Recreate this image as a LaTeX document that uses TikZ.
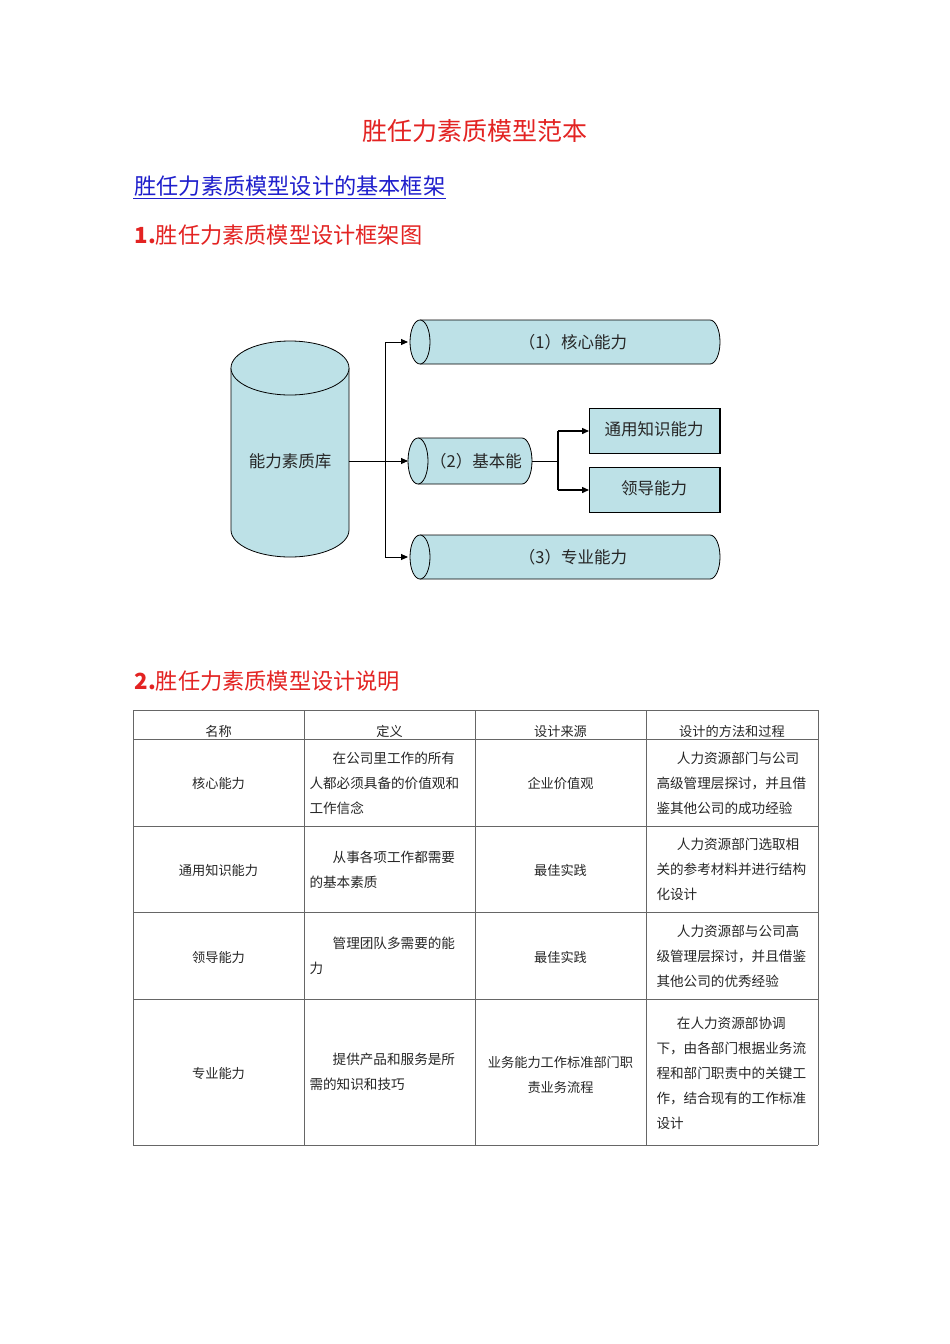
\documentclass[tikz,border=0pt]{standalone}
\usepackage{fontspec}
\setmainfont{Liberation Sans}
\newfontfamily\cjk{Noto Sans CJK SC}
\usetikzlibrary{arrows.meta}
\definecolor{tube}{HTML}{BDE1E7}
\definecolor{ttl}{HTML}{E32322}
\definecolor{lnk}{HTML}{1F1FCC}
\begin{document}
\begin{tikzpicture}[x=1pt,y=-1pt,
  arr/.style={draw,line width=0.9pt,-{Triangle[length=7pt,width=6pt]}},
  tline/.style={draw=black!60,line width=0.6pt},
  cell/.style={font=\cjk\fontsize{13.6}{25}\selectfont,align=left,text=black!85},
  ccell/.style={font=\cjk\fontsize{13.2}{25}\selectfont,align=center,text=black!85},
  lbl/.style={font=\cjk\fontsize{16.5}{18}\selectfont,text=black!85}]
\fill[white] (0,0) rectangle (950,1344);
\useasboundingbox (0,0) rectangle (950,1344);
% headings
\node[font=\cjk\fontsize{25}{28}\selectfont,text=ttl] (title) at (475,131) {胜任力素质模型范本};
\node[anchor=west,font=\cjk\fontsize{22.2}{24}\selectfont,text=lnk] (sub) at (131,186) {胜任力素质模型设计的基本框架};
\draw[lnk,line width=0.8pt] (133,198) -- (446,198);
\node[anchor=west,font=\cjk\fontsize{22.2}{24}\selectfont,text=ttl] (h1) at (131,235) {\textbf{1.}胜任力素质模型设计框架图};
\node[anchor=west,font=\cjk\fontsize{22.2}{24}\selectfont,text=ttl] (h2) at (131,681) {\textbf{2.}胜任力素质模型设计说明};
% vertical cylinder
\draw[fill=tube,line width=0.8pt] (231,368) -- (231,530) arc[start angle=180,end angle=0,x radius=59,y radius=27] -- (349,368);
\draw[fill=tube,line width=0.8pt] (290,368) ellipse[x radius=59,y radius=27];
\node[lbl] (db) at (290,461) {能力素质库};
\coordinate (dbr) at (349,461);
% horizontal tubes
\foreach \n/\xa/\xb/\yc/\ry/\dx/\t in {core/420/710/342/22/8/{（1）核心能力},basic/418/522/461/23/6/{（2）基本能},prof/420/710/557/22/8/{（3）专业能力}}{
  \draw[fill=tube,line width=0.8pt] (\xa,\yc-\ry) -- (\xb,\yc-\ry) arc[start angle=-90,end angle=90,x radius=10,y radius=\ry] -- (\xa,\yc+\ry);
  \draw[fill=tube,line width=0.8pt] (\xa,\yc) ellipse[x radius=10,y radius=\ry];
  \node[lbl] (\n) at ({(\xa+\xb)/2+\dx},\yc) {\t};
}
% boxes
\draw[fill=tube,line width=0.8pt] (589,408) rectangle (720,453);
\draw[line width=1.6pt] (720,408) -- (720,453);
\node[lbl] (gen) at (654,429) {通用知识能力};
\draw[fill=tube,line width=0.8pt] (589,467) rectangle (720,512);
\draw[line width=1.6pt] (720,467) -- (720,512);
\node[lbl] (lead) at (654,488) {领导能力};
% connectors
\coordinate (jv1) at (385,342); \coordinate (jv3) at (385,557);
\draw[line width=0.9pt] (jv1) -- (jv3);
\path[arr] (dbr) -- (408,461);
\path[arr] (jv1) -- (408,342);
\path[arr] (jv3) -- (408,557);
\coordinate (bo) at (532,461); \coordinate (bj) at (558,461);
\draw[line width=0.9pt] (bo) -- (bj);
\draw[line width=1.4pt] (558,431) -- (558,490);
\path[arr,line width=1.4pt] (558,431) -- (589,431);
\path[arr,line width=1.4pt] (558,490) -- (589,490);
% table
\foreach \y in {710,739,826,912,999,1145} \draw[tline] (133,\y) -- (818,\y);
\foreach \x in {133,304,475,646,818} \draw[tline] (\x,710) -- (\x,1145);
\foreach \x/\t [count=\i] in {218.5/名称,389.5/定义,560.5/设计来源,732/设计的方法和过程}
  \node[ccell] (hd\i) at (\x,731) {\t};
% col 1
\node[ccell] (n1) at (218.5,783) {核心能力};
\node[ccell] (n2) at (218.5,870) {通用知识能力};
\node[ccell] (n3) at (218.5,957) {领导能力};
\node[ccell] (n4) at (218.5,1073) {专业能力};
% col 2
\node[cell,anchor=north west] (d1) at (306,748) {\hspace{1.7em}在公司里工作的所有\\人都必须具备的价值观和\\工作信念};
\node[cell,anchor=north west] (d2) at (306,847) {\hspace{1.7em}从事各项工作都需要\\的基本素质};
\node[cell,anchor=north west] (d3) at (306,933) {\hspace{1.7em}管理团队多需要的能\\力};
\node[cell,anchor=north west] (d4) at (306,1050) {\hspace{1.7em}提供产品和服务是所\\需的知识和技巧};
% col 3
\node[ccell] (s1) at (560.5,783) {企业价值观};
\node[ccell] (s2) at (560.5,870) {最佳实践};
\node[ccell] (s3) at (560.5,957) {最佳实践};
\node[ccell] (s4) at (560.5,1075) {业务能力工作标准部门职\\责业务流程};
% col 4
\node[cell,anchor=north west] (m1) at (653,748) {\hspace{1.5em}人力资源部门与公司\\高级管理层探讨，并且借\\鉴其他公司的成功经验};
\node[cell,anchor=north west] (m2) at (653,834) {\hspace{1.5em}人力资源部门选取相\\关的参考材料并进行结构\\化设计};
\node[cell,anchor=north west] (m3) at (653,921) {\hspace{1.5em}人力资源部与公司高\\级管理层探讨，并且借鉴\\其他公司的优秀经验};
\node[cell,anchor=north west] (m4) at (653,1013) {\hspace{1.5em}在人力资源部协调\\下，由各部门根据业务流\\程和部门职责中的关键工\\作，结合现有的工作标准\\设计};
\end{tikzpicture}
\end{document}
